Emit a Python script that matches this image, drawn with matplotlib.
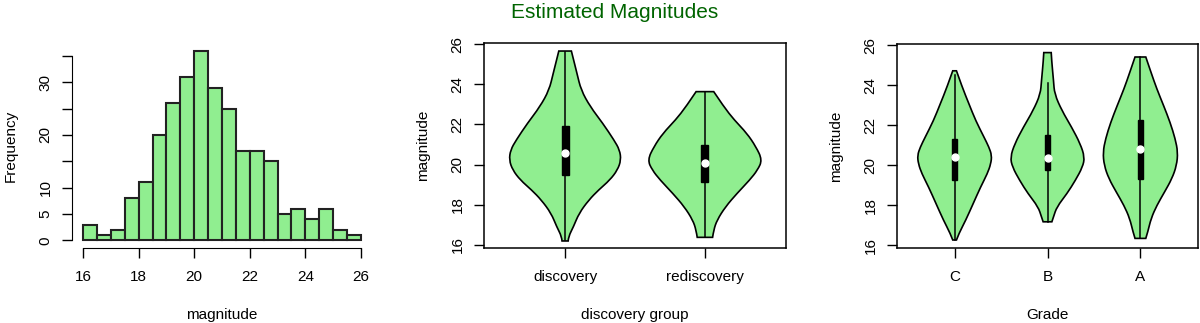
import numpy as np
import matplotlib
matplotlib.use("Agg")
import matplotlib.pyplot as plt
from matplotlib.path import Path
from matplotlib.patches import PathPatch, Rectangle

plt.rcParams["font.family"] = ["Liberation Sans", "DejaVu Sans"]
plt.rcParams["font.size"] = 11

# histogram of magnitudes (bins of 0.5 from 16 to 26)
bin_edges = np.arange(16, 26, 0.5)
counts = [3, 1, 2, 8, 11, 20, 26, 31, 36, 29, 25, 17, 17, 15, 5, 6, 4, 6, 2, 1]

# violin outlines: y levels and half widths (bottom to top)
disc_y = [16.2, 16.41, 16.91, 17.58, 18.24, 18.74, 19.23, 19.73, 20.23, 20.73, 21.22, 22.05, 22.88, 23.71, 24.54, 25.65]
disc_w = [0.022, 0.024, 0.06, 0.10, 0.17, 0.24, 0.32, 0.375, 0.40, 0.39, 0.35, 0.27, 0.18, 0.114, 0.085, 0.045]
redisc_y = [16.38, 16.75, 17.24, 17.9, 18.57, 19.23, 19.73, 20.23, 20.89, 21.56, 22.22, 22.88, 23.63]
redisc_w = [0.055, 0.063, 0.087, 0.147, 0.23, 0.32, 0.377, 0.41, 0.365, 0.30, 0.21, 0.135, 0.063]
c_y = [16.25, 16.58, 17.24, 18.07, 18.9, 19.57, 20.06, 20.48, 20.89, 21.39, 22.22, 23.05, 23.88, 24.71]
c_w = [0.02, 0.047, 0.12, 0.20, 0.28, 0.353, 0.39, 0.40, 0.37, 0.317, 0.227, 0.155, 0.083, 0.02]
b_y = [17.16, 17.41, 17.9, 18.57, 19.23, 19.9, 20.39, 21.06, 21.89, 22.72, 23.55, 24.21, 25.2, 25.62]
b_w = [0.047, 0.065, 0.10, 0.21, 0.30, 0.378, 0.40, 0.353, 0.26, 0.155, 0.076, 0.065, 0.045, 0.04]
a_y = [16.33, 16.66, 17.33, 17.98, 18.65, 19.32, 19.98, 20.64, 21.31, 22.13, 22.97, 23.8, 24.62, 25.4]
a_w = [0.058, 0.08, 0.115, 0.177, 0.26, 0.34, 0.39, 0.403, 0.375, 0.32, 0.25, 0.177, 0.115, 0.058]

# box stats: whisker low, q1, median, q3, whisker high
disc_stats = [16.25, 19.48, 20.56, 21.92, 25.6]
redisc_stats = [16.38, 19.15, 20.09, 20.98, 23.63]
c_stats = [16.25, 19.23, 20.39, 21.31, 24.5]
b_stats = [17.16, 19.77, 20.36, 21.51, 24.12]
a_stats = [16.33, 19.32, 20.78, 22.27, 25.4]

fill = "#90EE90"


def side_path(xs, ys):
    # quadratic b-spline through the read points (first and last kept)
    verts = [(xs[0], ys[0])]
    codes = []
    n = len(xs)
    for i in range(1, n - 1):
        if i < n - 2:
            end = ((xs[i] + xs[i + 1]) / 2, (ys[i] + ys[i + 1]) / 2)
        else:
            end = (xs[i + 1], ys[i + 1])
        verts += [(xs[i], ys[i]), end]
        codes += [Path.CURVE3, Path.CURVE3]
    return verts, codes


def violin(ax, pos, ys, ws, stats):
    ys = np.array(ys)
    ws = np.array(ws)
    rv, rc = side_path(pos + ws, ys)
    lv, lc = side_path((pos - ws)[::-1], ys[::-1])
    verts = rv + lv + [rv[0]]
    codes = [Path.MOVETO] + rc + [Path.LINETO] + lc + [Path.CLOSEPOLY]
    ax.add_patch(PathPatch(Path(verts, codes), facecolor=fill, edgecolor="black", lw=1.2, zorder=2))
    lo, q1, med, q3, hi = stats
    ax.plot([pos, pos], [lo, hi], color="black", lw=1.1, zorder=3)
    ax.add_patch(Rectangle((pos - 0.025, q1), 0.05, q3 - q1, facecolor="black", edgecolor="black", lw=1, zorder=4))
    ax.plot([pos], [med], "o", color="white", ms=5, mec="white", zorder=5)


fig = plt.figure(figsize=(12, 3.23), dpi=100)
H = 323.0
W = 1200.0


def axes_px(left, right, top, bottom):
    return fig.add_axes([left / W, 1 - bottom / H, (right - left) / W, (bottom - top) / H])


tick_kw = dict(length=7, width=1, direction="out")

# histogram
ax1 = axes_px(72, 372, 43, 248)
ax1.bar(bin_edges, counts, width=0.5, align="edge", color=fill, edgecolor="#222222", lw=1.5)
ax1.set_xlim(15.6, 26.4)
ax1.set_ylim(-1.44, 37.44)
ax1.set_xticks([16, 18, 20, 22, 24, 26])
ax1.set_yticks(range(0, 36, 5))
ax1.set_yticklabels(["0", "5", "10", "", "20", "", "30", ""], rotation=90, va="center")
for s in ["top", "right"]:
    ax1.spines[s].set_visible(False)
ax1.spines["left"].set_bounds(0, 35)
ax1.spines["bottom"].set_bounds(16, 26)
ax1.tick_params(axis="x", pad=9, **tick_kw)
ax1.tick_params(axis="y", pad=7, **tick_kw)
ax1.set_xlabel("magnitude", labelpad=17)
ax1.set_ylabel("Frequency", labelpad=15)

# discovery group
ax2 = axes_px(484, 786, 43, 248)
violin(ax2, 1, disc_y, disc_w, disc_stats)
violin(ax2, 2, redisc_y, redisc_w, redisc_stats)
ax2.set_xlim(0.42, 2.58)
ax2.set_xticks([1, 2])
ax2.set_xticklabels(["discovery", "rediscovery"])
ax2.set_xlabel("discovery group", labelpad=17)
ax2.set_ylabel("magnitude", labelpad=15)

# grade
ax3 = axes_px(897, 1198, 44, 248)
violin(ax3, 1, c_y, c_w, c_stats)
violin(ax3, 2, b_y, b_w, b_stats)
violin(ax3, 3, a_y, a_w, a_stats)
ax3.set_xlim(0.38, 3.62)
ax3.set_xticks([1, 2, 3])
ax3.set_xticklabels(["C", "B", "A"])
ax3.set_xlabel("Grade", labelpad=17)
ax3.set_ylabel("magnitude", labelpad=15)

for ax in (ax2, ax3):
    ax.set_ylim(15.85, 26.05)
    ax.set_yticks(range(16, 27, 2))
    ax.set_yticklabels([str(v) for v in range(16, 27, 2)], rotation=90, va="center")
    ax.tick_params(axis="x", pad=9, **tick_kw)
    ax.tick_params(axis="y", pad=7, **tick_kw)
    for s in ax.spines.values():
        s.set_linewidth(1.1)

fig.text(615 / W, 1 - 12 / H, "Estimated Magnitudes", color="darkgreen", fontsize=15, ha="center", va="center")

fig.savefig("out.png", dpi=100)
